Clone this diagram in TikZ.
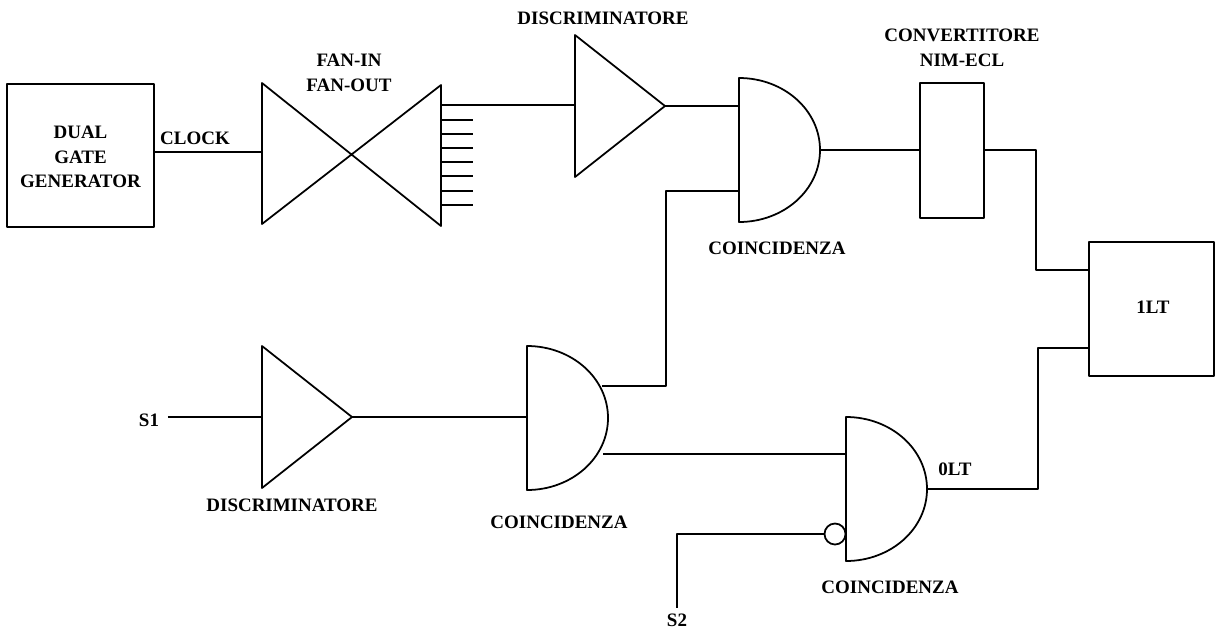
\documentclass[tikz,border=0pt]{standalone}
\usepackage{fontspec}
\setmainfont{Liberation Serif}
\usetikzlibrary{positioning,calc}

\begin{document}
\begin{tikzpicture}[x=0.02cm, y=-0.02cm, line width=1pt, line join=round,
  l/.style={font=\fontsize{10.8}{12}\selectfont\bfseries, inner sep=0pt, align=center},
  b/.style={draw, inner sep=0pt},
  andgate/.pic={
    \draw (0,0) -- (0,144) .. controls (44.7,144) and (81,112) .. (81,72)
      .. controls (81,32) and (44.7,0) .. (0,0) -- cycle;
    \coordinate (-mid) at (0,72);
    \coordinate (-up) at (0,30);
    \coordinate (-dn) at (0,113);
    \coordinate (-out) at (81,72);
    \coordinate (-ou) at (75,40);
    \coordinate (-od) at (76,108);},
  trigate/.pic={
    \draw (0,0) -- (0,142) -- (90,71) -- cycle;
    \coordinate (-in) at (0,71);
    \coordinate (-out) at (90,71);}]
\useasboundingbox (0,0) rectangle (1218,630);
% boxes
\node[b, minimum width=2.94cm, minimum height=2.86cm] (gen) at (80.5,155.5) {};
\node[l] (gent) at (80.5,157) {DUAL\\[2pt]GATE\\[2pt]GENERATOR};
\node[b, minimum width=1.28cm, minimum height=2.7cm] (conv) at (952,150.5) {};
\node[b, minimum width=2.5cm, minimum height=2.68cm] (lt) at (1151.5,309) {};
% gates
\draw (262,83) -- (262,224) -- (441,85) -- (441,226) -- cycle;
\coordinate (fanin) at (262,152);
\foreach \i/\y in {1/105,2/120,3/134,4/148,5/162,6/176,7/191,8/205}
  \coordinate (fo\i) at (441,\y);
\foreach \i in {2,...,8}
  \draw (fo\i) -- ++(32,0);
\pic (d1) at (575,35) {trigate};
\pic (d2) at (262,346) {trigate};
\pic (a1) at (739,78) {andgate};
\pic (a2) at (527,346) {andgate};
\pic (a3) at (846,417) {andgate};
\node[draw, circle, inner sep=0pt, minimum size=0.42cm] (neg) at (835,534) {};
% labels
\node[l] (clk) at (195,138) {CLOCK};
\node[l] (fan) at (349,73) {FAN-IN\\[2pt]FAN-OUT};
\node[l] (d1t) at (603,18) {DISCRIMINATORE};
\node[l] (d2t) at (292,505) {DISCRIMINATORE};
\node[l] (convt) at (962,48) {CONVERTITORE\\[2pt]NIM-ECL};
\node[l] (a1t) at (777,248) {COINCIDENZA};
\node[l] (a2t) at (559,522) {COINCIDENZA};
\node[l] (a3t) at (890,587) {COINCIDENZA};
\node[l] (ltt) at (1153,307) {1LT};
\node[l] (olt) at (955,469) {0LT};
\node[l] (s1) at (149,420) {S1};
\node[l] (s2) at (677,620) {S2};
% wires
\coordinate (bendA) at (666,288);
\coordinate (bendB) at (1036,270);
\coordinate (bendC) at (1038,348);
\draw (fanin -| gen.east) -- (fanin);
\draw (fo1) -- (fo1 -| d1-in);
\draw (d1-out) -- (d1-out -| a1-up);
\draw (a2-ou) -| (bendA) |- (a1-dn);
\draw (d2-in -| s1.east) ++(8,0) -- (d2-in);
\draw (d2-out) -- (d2-out -| a2-mid);
\draw (a2-od) -- (a2-od -| a3-up);
\draw (s2.north) ++(0,-5) |- (neg.west);
\draw (a1-out) -- (a1-out -| conv.west);
\draw (a1-out -| conv.east) -| (bendB) -- (bendB -| lt.west);
\draw (a3-out) -| (bendC) -- (bendC -| lt.west);
\end{tikzpicture}
\end{document}
